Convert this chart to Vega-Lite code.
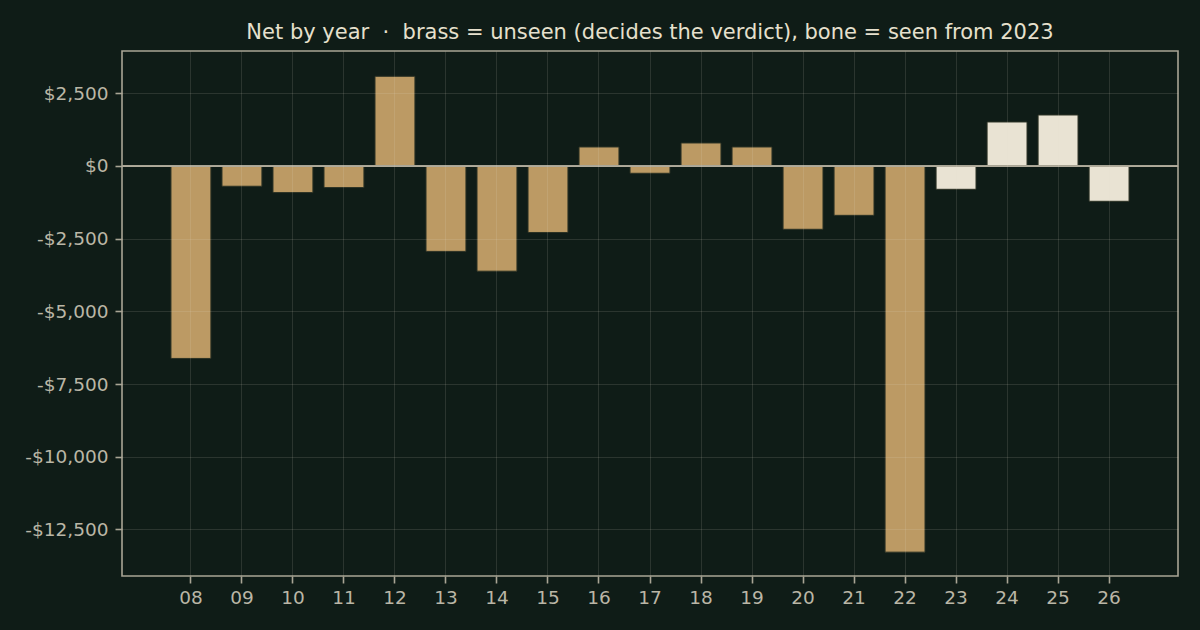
{
  "$schema": "https://vega.github.io/schema/vega-lite/v6.json",
  "width": 1056,
  "height": 525,
  "autosize": "none",
  "padding": {"left": 122, "top": 51, "right": 22, "bottom": 54},
  "background": "#0f1c17",
  "title": {
    "text": "Net by year \u00a0·\u00a0 brass = unseen (decides the verdict), bone = seen from 2023",
    "font": "DejaVu Sans",
    "fontSize": 21,
    "fontWeight": "normal",
    "color": "#e6e0cd",
    "offset": 8
  },
  "data": {
    "values": [
      {"yr": "08", "net": -6620, "kind": "unseen"},
      {"yr": "09", "net": -700, "kind": "unseen"},
      {"yr": "10", "net": -918, "kind": "unseen"},
      {"yr": "11", "net": -746, "kind": "unseen"},
      {"yr": "12", "net": 3080, "kind": "unseen"},
      {"yr": "13", "net": -2940, "kind": "unseen"},
      {"yr": "14", "net": -3620, "kind": "unseen"},
      {"yr": "15", "net": -2290, "kind": "unseen"},
      {"yr": "16", "net": 650, "kind": "unseen"},
      {"yr": "17", "net": -254, "kind": "unseen"},
      {"yr": "18", "net": 788, "kind": "unseen"},
      {"yr": "19", "net": 650, "kind": "unseen"},
      {"yr": "20", "net": -2180, "kind": "unseen"},
      {"yr": "21", "net": -1700, "kind": "unseen"},
      {"yr": "22", "net": -13280, "kind": "unseen"},
      {"yr": "23", "net": -805, "kind": "seen"},
      {"yr": "24", "net": 1510, "kind": "seen"},
      {"yr": "25", "net": 1750, "kind": "seen"},
      {"yr": "26", "net": -1217, "kind": "seen"}
    ]
  },
  "layer": [
    {
      "mark": {"type": "bar", "stroke": "#2b3124", "strokeWidth": 1},
      "encoding": {
        "x": {
          "field": "yr",
          "type": "ordinal",
          "title": null,
          "scale": {"paddingInner": 0.217, "paddingOuter": 0.96},
          "axis": {
            "labelAngle": 0,
            "bandPosition": 0.5,
            "grid": true,
            "labelPadding": 5,
            "zindex": 1
          }
        },
        "y": {
          "field": "net",
          "type": "quantitative",
          "title": null,
          "scale": {"domain": [-14100, 3950], "nice": false, "zero": false},
          "axis": {
            "values": [-12500, -10000, -7500, -5000, -2500, 0, 2500],
            "labelExpr": "(datum.value < 0 ? '-' : '') + '$' + format(abs(datum.value), ',')",
            "grid": true,
            "labelPadding": 7,
            "zindex": 1
          }
        },
        "color": {
          "field": "kind",
          "type": "nominal",
          "scale": {"domain": ["unseen", "seen"], "range": ["#bc9a64", "#e9e3d3"]},
          "legend": null
        }
      }
    },
    {
      "mark": {"type": "rule", "color": "#a9a595", "strokeWidth": 1.6},
      "encoding": {"y": {"datum": 0, "type": "quantitative"}}
    }
  ],
  "config": {
    "font": "DejaVu Sans",
    "view": {"stroke": "#a9a595", "strokeWidth": 1.6},
    "axis": {
      "domain": false,
      "ticks": true,
      "tickColor": "#a9a595",
      "tickSize": 7,
      "tickWidth": 1.6,
      "labelColor": "#bab6a6",
      "labelFont": "DejaVu Sans",
      "labelFontSize": 18.5,
      "gridColor": "#e6e0cd",
      "gridOpacity": 0.13,
      "gridWidth": 1
    }
  }
}
